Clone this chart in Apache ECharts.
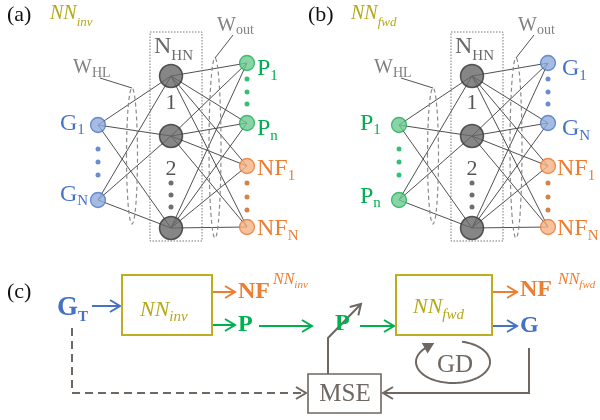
<!DOCTYPE html>
<html><head><meta charset="utf-8">
<script src="https://cdn.jsdelivr.net/npm/echarts@6/dist/echarts.min.js"></script>
<style>html,body{margin:0;padding:0;background:#fff}#c{width:600px;height:420px}</style>
</head><body><div id="c"></div>
<script>
// ---------- data ----------
const panelNames = ['(a)', '(b)'];
const panelNets = [['NN', 'inv'], ['NN', 'fwd']];
const inputKinds = [['blue', 'blue'], ['green', 'green']];
const outputKinds = [['green', 'green', 'orange', 'orange'], ['blue', 'blue', 'orange', 'orange']];
const inputLabels = [[['G', '1'], ['G', 'N']], [['P', '1'], ['P', 'n']]];
const outputLabels = [[['P', '1'], ['P', 'n'], ['NF', '1'], ['NF', 'N']], [['G', '1'], ['G', 'N'], ['NF', '1'], ['NF', 'N']]];
const hiddenLabels = ['1', '2'];
const inputY = [125, 200];
const hiddenY = [76, 136, 228];
const outputY = [63, 123, 166, 227];
const inputDotsY = [149, 162, 175];
const hiddenDotsY = [183, 195, 207];
const outputDotsY = [[79, 92, 104], [183, 197, 210]];
const flowArrows = [
  { pts: [[92, 306], [120, 306]], kind: 'blue' },
  { pts: [[213, 292], [235, 292]], kind: 'orange' },
  { pts: [[213, 325], [235, 325]], kind: 'green' },
  { pts: [[259, 326], [312, 326]], kind: 'green' },
  { pts: [[360, 326], [394, 326]], kind: 'green' },
  { pts: [[493, 292], [517, 292]], kind: 'orange' },
  { pts: [[493, 326], [517, 326]], kind: 'blue' },
  { pts: [[529, 348], [529, 393], [383, 393]], kind: 'gray' },
  { pts: [[72, 328], [72, 393], [306, 393]], kind: 'gray', dashed: true },
  { pts: [[328, 374], [328, 338], [361, 304]], kind: 'gray' }
];

// ---------- layout / style ----------
const panelOffsets = [0, 301];
const layerX = [98, 171, 247];
const FONT = '"Liberation Serif", "DejaVu Serif", serif';
const PAL = {
  blue: { fill: '#8eaadb', stroke: '#4a76c6', text: '#4472c4', dot: '#4472c4' },
  green: { fill: '#6bc991', stroke: '#1fae58', text: '#00b050', dot: '#00b050' },
  orange: { fill: '#f4b183', stroke: '#e8792f', text: '#ed7d31', dot: '#c8641c' },
  gray: { text: '#6f6762' }
};
const OLIVE = '#b5a819', OLIVE_BOX = '#bcae23', GRAY_N = '#6a6a6a', GRAY_W = '#808080', GRAYC = '#6f6762';

const mctx = document.createElement('canvas').getContext('2d');
function fontStr(p) { return (p.italic ? 'italic ' : '') + (p.bold ? 'bold ' : '') + p.size + 'px ' + FONT; }
function tw(str, p) { mctx.font = fontStr(p); return mctx.measureText(str).width; }
function rt(x, base, parts, z) {
  const els = []; let cx = x;
  for (const p of parts) {
    els.push({
      type: 'text', silent: true, z: z || 10,
      style: {
        text: p.t, x: cx, y: base + (p.dy || 0) - 0.34 * p.size,
        fontSize: p.size, fontFamily: FONT, fontStyle: p.italic ? 'italic' : 'normal',
        fontWeight: p.bold ? 'bold' : 'normal', fill: p.color, align: 'left', verticalAlign: 'middle'
      }
    });
    cx += tw(p.t, p) + (p.gap || 0);
  }
  return els;
}
function ct(x, y, t, size, color) {
  return { type: 'text', silent: true, z: 10, style: { text: t, x: x, y: y, fontSize: size, fontFamily: FONT, fill: color, align: 'center', verticalAlign: 'middle' } };
}

// ---------- build series data ----------
const edges = [], nodes = [], dots = [];
const graphics = [];
const inputBase = [[[60, 132], [60, 203]], [[360, 132], [360, 205]]];
const outputLeft = [[257, 257, 257, 257], [562, 562, 557, 557]];
const outputBaseOff = [14, 14, 11, 10];

panelOffsets.forEach((off, p) => {
  const xi = layerX[0] + off, xh = layerX[1] + off, xo = layerX[2] + off;
  inputY.forEach(yi => hiddenY.forEach(yh => edges.push({ coords: [[xi, yi], [xh, yh]] })));
  hiddenY.forEach(yh => outputY.forEach(yo => edges.push({ coords: [[xh, yh], [xo, yo]] })));
  inputY.forEach((y, i) => { const c = PAL[inputKinds[p][i]]; nodes.push({ value: [xi, y], symbolSize: 15, itemStyle: { color: c.fill, borderColor: c.stroke, borderWidth: 1.3 } }); });
  hiddenY.forEach(y => nodes.push({ value: [xh, y], symbolSize: 23, itemStyle: { color: '#686868', borderColor: '#343434', borderWidth: 1.5 } }));
  outputY.forEach((y, i) => { const c = PAL[outputKinds[p][i]]; nodes.push({ value: [xo, y], symbolSize: 15, itemStyle: { color: c.fill, borderColor: c.stroke, borderWidth: 1.3 } }); });
  inputDotsY.forEach(y => dots.push({ value: [xi, y], itemStyle: { color: PAL[inputKinds[p][0]].dot } }));
  hiddenDotsY.forEach(y => dots.push({ value: [xh, y], itemStyle: { color: '#4a4a4a' } }));
  outputDotsY[0].forEach(y => dots.push({ value: [xo, y], itemStyle: { color: PAL[outputKinds[p][0]].dot } }));
  outputDotsY[1].forEach(y => dots.push({ value: [xo, y], itemStyle: { color: PAL[outputKinds[p][2]].dot } }));

  // decorations
  graphics.push({ type: 'rect', silent: true, z: 2, shape: { x: 150 + off, y: 32, width: 52, height: 209 }, style: { fill: 'none', stroke: '#777', lineWidth: 1, lineDash: [1.5, 1.5] } });
  graphics.push({ type: 'ellipse', silent: true, z: 2, shape: { cx: 132 + off, cy: 156, rx: 5.5, ry: 68 }, style: { fill: 'none', stroke: '#8a8a8a', lineWidth: 1.2, lineDash: [4, 3] } });
  graphics.push({ type: 'ellipse', silent: true, z: 2, shape: { cx: 215 + off, cy: 148, rx: 6, ry: 90 }, style: { fill: 'none', stroke: '#8a8a8a', lineWidth: 1.2, lineDash: [4, 3] } });
  graphics.push({ type: 'line', silent: true, z: 2, shape: { x1: 100 + off, y1: 78, x2: 132 + off, y2: 88 }, style: { stroke: '#555', lineWidth: 1 } });
  graphics.push({ type: 'line', silent: true, z: 2, shape: { x1: 233 + off, y1: 35, x2: 215 + off, y2: 58 }, style: { stroke: '#555', lineWidth: 1 } });

  // texts
  graphics.push(...rt(7 + off, 23, [{ t: panelNames[p], size: 22, color: '#111' }]));
  graphics.push(...rt(50 + off, 21, [{ t: panelNets[p][0], size: 20, italic: true, color: OLIVE }, { t: panelNets[p][1], size: 13, italic: true, color: OLIVE, dy: 6 }]));
  graphics.push(...rt(154 + off, 55, [{ t: 'N', size: 24, color: GRAY_N }, { t: 'HN', size: 15, color: GRAY_N, dy: 6 }]));
  graphics.push(...rt(73 + off, 75, [{ t: 'W', size: 20, color: GRAY_W }, { t: 'HL', size: 14, color: GRAY_W, dy: 3 }]));
  graphics.push(...rt(217 + off, 33, [{ t: 'W', size: 20, color: GRAY_W }, { t: 'out', size: 14, color: GRAY_W, dy: 2 }]));
  graphics.push(ct(xh, 103, hiddenLabels[0], 22, '#555'));
  graphics.push(ct(xh, 169, hiddenLabels[1], 22, '#555'));
  inputLabels[p].forEach((l, i) => {
    const col = PAL[inputKinds[p][i]].text;
    graphics.push(...rt(inputBase[p][i][0], inputBase[p][i][1], [{ t: l[0], size: 24, color: col }, { t: l[1], size: 15, color: col, dy: 3 }]));
  });
  outputLabels[p].forEach((l, i) => {
    const col = PAL[outputKinds[p][i]].text;
    graphics.push(...rt(outputLeft[p][i], outputY[i] + outputBaseOff[i], [{ t: l[0], size: 24, color: col }, { t: l[1], size: 15, color: col, dy: 4 }]));
  });
});

// panel (c)
graphics.push(...rt(7, 300, [{ t: '(c)', size: 22, color: '#111' }]));
graphics.push(...rt(57, 317, [{ t: 'G', size: 27, bold: true, color: PAL.blue.text }, { t: 'T', size: 15, bold: true, color: PAL.blue.text, dy: 5 }]));
graphics.push({ type: 'rect', silent: true, z: 5, shape: { x: 122, y: 275, width: 90, height: 60 }, style: { fill: 'none', stroke: OLIVE_BOX, lineWidth: 2 } });
graphics.push({ type: 'rect', silent: true, z: 5, shape: { x: 396, y: 275, width: 96, height: 60 }, style: { fill: 'none', stroke: OLIVE_BOX, lineWidth: 2 } });
graphics.push({ type: 'rect', silent: true, z: 5, shape: { x: 308, y: 374, width: 73, height: 39 }, style: { fill: 'none', stroke: GRAYC, lineWidth: 1.6 } });
graphics.push(...rt(140, 318, [{ t: 'NN', size: 22, italic: true, color: OLIVE }, { t: 'inv', size: 15, italic: true, color: OLIVE, dy: 4 }]));
graphics.push(...rt(413, 315, [{ t: 'NN', size: 22, italic: true, color: OLIVE }, { t: 'fwd', size: 15, italic: true, color: OLIVE, dy: 5 }]));
graphics.push(...rt(238, 300, [{ t: 'NF', size: 24, bold: true, color: PAL.orange.text }]));
graphics.push(...rt(273, 285, [{ t: 'NN', size: 16, italic: true, color: PAL.orange.text }, { t: 'inv', size: 11, italic: true, color: PAL.orange.text, dy: 4 }]));
graphics.push(...rt(520, 298, [{ t: 'NF', size: 24, bold: true, color: PAL.orange.text }]));
graphics.push(...rt(558, 285, [{ t: 'NN', size: 16, italic: true, color: PAL.orange.text }, { t: 'fwd', size: 11, italic: true, color: PAL.orange.text, dy: 4 }]));
graphics.push(...rt(238, 333, [{ t: 'P', size: 24, bold: true, color: PAL.green.text }]));
graphics.push(...rt(335, 332, [{ t: 'P', size: 24, bold: true, color: PAL.green.text }]));
graphics.push(...rt(520, 334, [{ t: 'G', size: 24, bold: true, color: PAL.blue.text }]));
graphics.push(ct(455, 365, 'GD', 25, GRAYC));
graphics.push(ct(345, 394, 'MSE', 25, GRAYC));

// ---------- custom renderers ----------
function arrowItem(params, api) {
  const a = flowArrows[params.dataIndex];
  const col = a.kind === 'gray' ? GRAYC : PAL[a.kind].text;
  const pts = a.pts.map(p => api.coord(p));
  const n = pts.length, P = pts[n - 1], Q = pts[n - 2];
  let dx = P[0] - Q[0], dy = P[1] - Q[1]; const L = Math.hypot(dx, dy); dx /= L; dy /= L;
  const hl = 10, hw = 6;
  const head = [[P[0] - hl * dx + hw * -dy, P[1] - hl * dy + hw * dx], P, [P[0] - hl * dx - hw * -dy, P[1] - hl * dy - hw * dx]];
  return {
    type: 'group', children: [
      { type: 'polyline', shape: { points: pts }, style: { stroke: col, lineWidth: 2, fill: 'none', lineDash: a.dashed ? [8, 5] : null } },
      { type: 'polyline', shape: { points: head }, style: { stroke: col, lineWidth: 2, fill: 'none' } }
    ]
  };
}
const gdLoop = { c: [453, 362], r: [37, 21], from: -76, to: 226 };
function loopItem(params, api) {
  const pts = [];
  for (let a = gdLoop.from; a <= gdLoop.to; a += 3) {
    const t = a * Math.PI / 180;
    pts.push(api.coord([gdLoop.c[0] + gdLoop.r[0] * Math.cos(t), gdLoop.c[1] + gdLoop.r[1] * Math.sin(t)]));
  }
  const t = gdLoop.to * Math.PI / 180;
  const P = api.coord([gdLoop.c[0] + gdLoop.r[0] * Math.cos(t), gdLoop.c[1] + gdLoop.r[1] * Math.sin(t)]);
  let dx = -gdLoop.r[0] * Math.sin(t), dy = gdLoop.r[1] * Math.cos(t); const L = Math.hypot(dx, dy); dx /= L; dy /= L;
  const tip = [P[0] + 8 * dx, P[1] + 8 * dy];
  const head = [tip, [P[0] - 3 * dx + 6 * -dy, P[1] - 3 * dy + 6 * dx], [P[0] - 3 * dx - 6 * -dy, P[1] - 3 * dy - 6 * dx]];
  return {
    type: 'group', children: [
      { type: 'polyline', shape: { points: pts }, style: { stroke: GRAYC, lineWidth: 2, fill: 'none' } },
      { type: 'polygon', shape: { points: head }, style: { fill: GRAYC } }
    ]
  };
}

const chart = echarts.init(document.getElementById('c'), null, { renderer: 'canvas' });
chart.setOption({
  animation: false,
  backgroundColor: '#fff',
  grid: { left: 0, right: 0, top: 0, bottom: 0 },
  xAxis: { type: 'value', min: 0, max: 600, show: false },
  yAxis: { type: 'value', min: 0, max: 420, inverse: true, show: false },
  graphic: { elements: graphics },
  series: [
    { type: 'lines', coordinateSystem: 'cartesian2d', z: 1, silent: true, data: edges, lineStyle: { color: '#474747', width: 0.95, opacity: 1 } },
    { type: 'scatter', z: 4, silent: true, symbol: 'circle', data: nodes },
    { type: 'scatter', z: 4, silent: true, symbol: 'circle', symbolSize: 5, data: dots },
    { type: 'custom', z: 4, silent: true, renderItem: arrowItem, data: flowArrows.map((a, i) => [a.pts[0][0], a.pts[0][1]]) },
    { type: 'custom', z: 4, silent: true, renderItem: loopItem, data: [[gdLoop.c[0], gdLoop.c[1]]] }
  ]
});
</script></body></html>
